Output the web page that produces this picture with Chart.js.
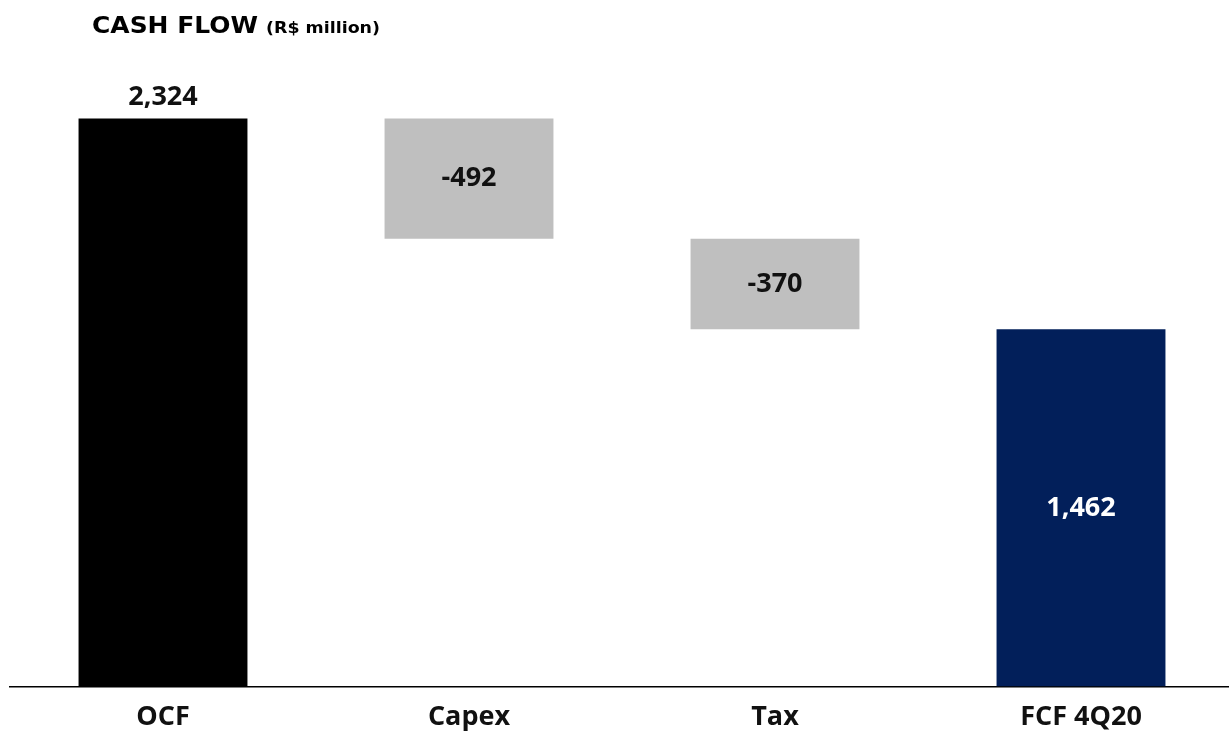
<!DOCTYPE html>
<html>
<head>
<meta charset="utf-8">
<script src="https://cdn.jsdelivr.net/npm/chart.js@4"></script>
<style>
  html, body { margin: 0; padding: 0; background: #fff; overflow: hidden; }
  #wrap { width: 1229px; height: 733px; position: relative; overflow: hidden; }
</style>
</head>
<body>
<div id="wrap"><canvas id="chart" width="1234" height="733"></canvas></div>
<script>
const categories = ["OCF", "Capex", "Tax", "FCF 4Q20"]
const values = [2324, -492, -370, 1462]
const labels = ["2,324", "-492", "-370", "1,462"]
const isTotal = [true, false, false, true]

const barColors = ["#000000", "#BFBFBF", "#BFBFBF", "#021F5A"]
const labelColors = ["#111111", "#111111", "#111111", "#ffffff"]

// waterfall ranges from the step values
let running = 0
const ranges = values.map((v, i) => {
  if (isTotal[i]) {
    running = v
    return [0, v]
  }
  const start = running
  running = running + v
  return [running, start]
})

const FONT = "'Open Sans', 'Liberation Sans', sans-serif"

// draw text stretched to a target width
function fitText(ctx, text, x, y, width) {
  const w = ctx.measureText(text).width
  ctx.save()
  ctx.translate(x, y)
  ctx.scale(width / w, 1)
  ctx.fillText(text, 0, 0)
  ctx.restore()
}

const titlePlugin = {
  id: "titlePlugin",
  afterDraw(chart) {
    const ctx = chart.ctx
    ctx.save()
    ctx.fillStyle = "#000"
    ctx.textBaseline = "alphabetic"
    ctx.textAlign = "left"
    ctx.font = "bold 23px 'DejaVu Sans', sans-serif"
    fitText(ctx, "CASH FLOW", 92, 33, 166)
    ctx.font = "bold 16px 'DejaVu Sans', sans-serif"
    fitText(ctx, "(R$ million)", 266, 33, 114)
    ctx.restore()
  },
}

const valueLabels = {
  id: "valueLabels",
  afterDatasetsDraw(chart) {
    const ctx = chart.ctx
    const meta = chart.getDatasetMeta(0)
    ctx.save()
    ctx.font = "bold 27px " + FONT
    ctx.textAlign = "center"
    ctx.textBaseline = "middle"
    meta.data.forEach((bar, i) => {
      const top = Math.min(bar.y, bar.base)
      const bottom = Math.max(bar.y, bar.base)
      ctx.fillStyle = labelColors[i]
      let y = (top + bottom) / 2
      if (i === 0) y = top - 21
      ctx.fillText(labels[i], bar.x, y)
    })
    ctx.restore()
  },
}

new Chart(document.getElementById("chart").getContext("2d"), {
  type: "bar",
  data: {
    labels: categories,
    datasets: [
      {
        data: ranges,
        backgroundColor: barColors,
        borderWidth: 0,
        barPercentage: 0.552,
        categoryPercentage: 1,
      },
    ],
  },
  options: {
    responsive: false,
    animation: false,
    layout: { padding: { top: 51, left: 10, right: 0, bottom: -16 } },
    plugins: {
      legend: { display: false },
      tooltip: { enabled: false },
    },
    scales: {
      y: {
        display: false,
        min: 0,
        max: 2600,
      },
      x: {
        grid: { display: false, drawTicks: false },
        border: { display: true, color: "#000", width: 1.5 },
        ticks: {
          color: "#111",
          padding: 15,
          maxRotation: 0,
          font: { size: 27, weight: "bold", family: FONT },
        },
      },
    },
  },
  plugins: [titlePlugin, valueLabels],
})
</script>
</body>
</html>
